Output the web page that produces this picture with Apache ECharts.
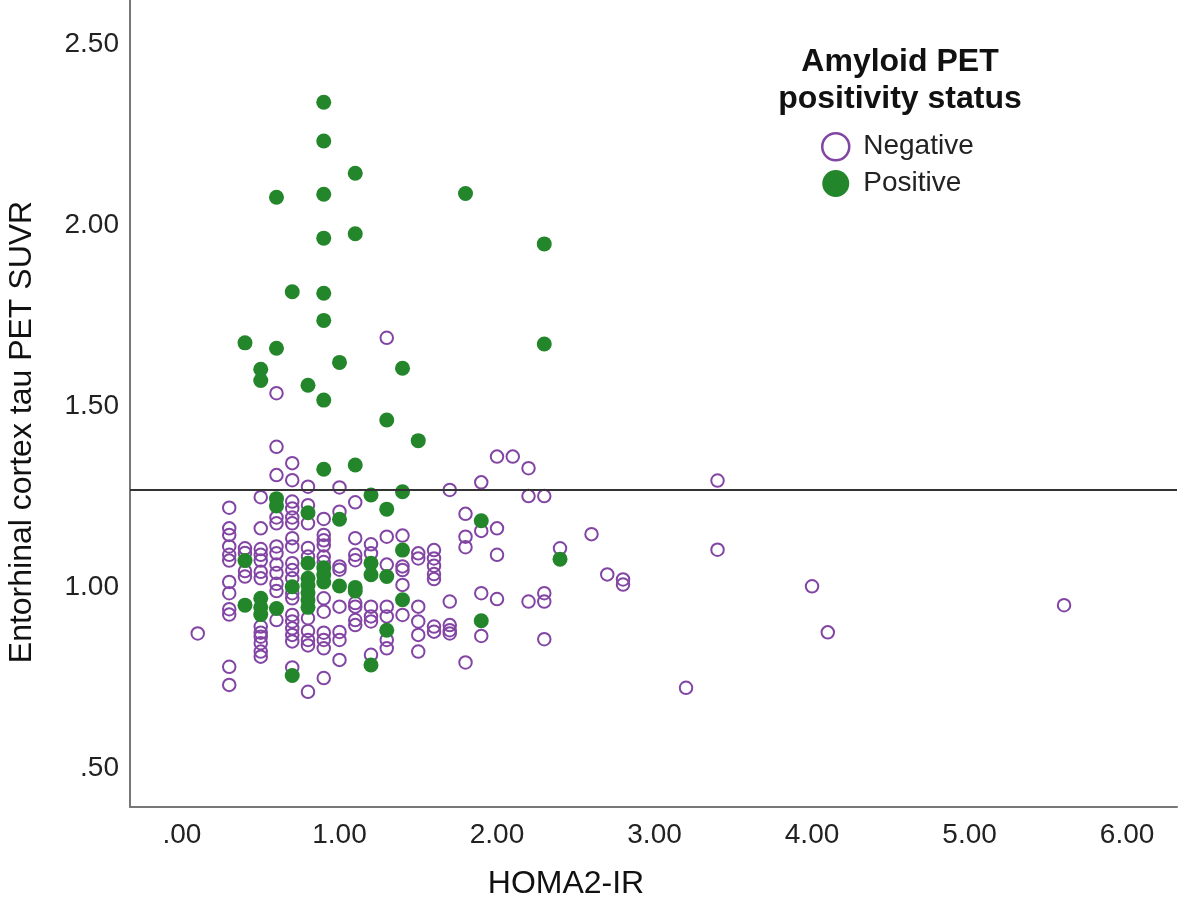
<!DOCTYPE html>
<html>
<head>
<meta charset="utf-8">
<script src="https://cdn.jsdelivr.net/npm/echarts@6/dist/echarts.min.js"></script>
<style>
html,body{margin:0;padding:0;background:#fff;}
#chart{width:1180px;height:910px;}
</style>
</head>
<body>
<div id="chart"></div>
<script>
// ---- data (HOMA2-IR, Entorhinal cortex tau PET SUVR) ----
const xTicks = [0, 1, 2, 3, 4, 5, 6];
const yTicks = [0.5, 1.0, 1.5, 2.0, 2.5];
const xTitle = 'HOMA2-IR';
const yTitle = 'Entorhinal cortex tau PET SUVR';
const legendTitle = 'Amyloid PET\npositivity status';
const seriesNames = ['Negative', 'Positive'];
const thresholdSUVR = 1.275;

const negative = [
  [0.1,0.873],
  [0.3,1.220],[0.3,1.163],[0.3,1.145],[0.3,1.113],[0.3,1.090],[0.3,1.074],[0.3,1.015],[0.3,0.984],[0.3,0.940],[0.3,0.925],[0.3,0.781],[0.3,0.731],
  [0.4,1.108],[0.4,1.095],[0.4,1.045],[0.4,1.030],
  [0.5,1.249],[0.5,1.163],[0.5,1.106],[0.5,1.090],[0.5,1.074],[0.5,1.043],[0.5,1.025],[0.5,0.892],[0.5,0.875],[0.5,0.864],[0.5,0.846],[0.5,0.823],[0.5,0.809],
  [0.6,1.536],[0.6,1.388],[0.6,1.310],[0.6,1.193],[0.6,1.177],[0.6,1.113],[0.6,1.094],[0.6,1.063],[0.6,1.040],[0.6,1.010],[0.6,0.990],[0.6,0.910],
  [0.7,1.343],[0.7,1.296],[0.7,1.237],[0.7,1.218],[0.7,1.193],[0.7,1.177],[0.7,1.136],[0.7,1.113],[0.7,1.067],[0.7,1.048],[0.7,1.025],[0.7,0.984],[0.7,0.970],[0.7,0.924],[0.7,0.906],[0.7,0.887],[0.7,0.869],[0.7,0.851],[0.7,0.779],
  [0.8,1.278],[0.8,1.227],[0.8,1.177],[0.8,1.109],[0.8,1.085],[0.8,0.915],[0.8,0.880],[0.8,0.855],[0.8,0.840],[0.8,0.712],
  [0.9,1.189],[0.9,1.145],[0.9,1.130],[0.9,1.116],[0.9,1.085],[0.9,1.070],[0.9,0.970],[0.9,0.933],[0.9,0.875],[0.9,0.855],[0.9,0.832],[0.9,0.750],
  [1.0,1.276],[1.0,1.209],[1.0,1.058],[1.0,1.049],[1.0,0.947],[1.0,0.877],[1.0,0.855],[1.0,0.800],
  [1.1,1.235],[1.1,1.136],[1.1,1.090],[1.1,1.075],[1.1,0.957],[1.1,0.947],[1.1,0.910],[1.1,0.896],
  [1.2,1.119],[1.2,1.094],[1.2,0.947],[1.2,0.920],[1.2,0.906],[1.2,0.814],
  [1.3,1.689],[1.3,1.140],[1.3,1.063],[1.3,0.947],[1.3,0.920],[1.3,0.855],[1.3,0.832],
  [1.4,1.143],[1.4,1.058],[1.4,1.048],[1.4,1.007],[1.4,0.924],
  [1.5,1.094],[1.5,1.080],[1.5,0.947],[1.5,0.906],[1.5,0.869],[1.5,0.823],
  [1.6,1.103],[1.6,1.080],[1.6,1.060],[1.6,1.037],[1.6,1.023],[1.6,0.892],[1.6,0.878],
  [1.7,1.269],[1.7,0.961],[1.7,0.896],[1.7,0.882],[1.7,0.873],
  [1.8,1.203],[1.8,1.140],[1.8,1.111],[1.8,0.793],
  [1.9,1.290],[1.9,1.156],[1.9,0.984],[1.9,0.866],
  [2.0,1.361],[2.0,1.163],[2.0,1.090],[2.0,0.968],
  [2.1,1.361],
  [2.2,1.329],[2.2,1.252],[2.2,0.961],
  [2.3,1.252],[2.3,0.984],[2.3,0.961],[2.3,0.857],
  [2.4,1.108],
  [2.6,1.147],
  [2.7,1.036],
  [2.8,1.022],[2.8,1.008],
  [3.2,0.723],
  [3.4,1.295],[3.4,1.104],
  [4.0,1.003],
  [4.1,0.876],
  [5.6,0.951]
];

const positive = [
  [0.4,1.675],[0.4,1.074],[0.4,0.951],
  [0.5,1.602],[0.5,1.571],[0.5,0.970],[0.5,0.945],[0.5,0.925],
  [0.6,2.077],[0.6,1.660],[0.6,1.245],[0.6,1.225],[0.6,0.942],
  [0.7,1.816],[0.7,1.002],[0.7,0.757],
  [0.8,1.558],[0.8,1.206],[0.8,1.067],[0.8,1.025],[0.8,1.005],[0.8,0.985],[0.8,0.965],[0.8,0.945],
  [0.9,2.339],[0.9,2.232],[0.9,2.085],[0.9,1.964],[0.9,1.812],[0.9,1.737],[0.9,1.517],[0.9,1.326],[0.9,1.054],[0.9,1.035],[0.9,1.015],
  [1.0,1.621],[1.0,1.188],[1.0,1.004],
  [1.1,2.143],[1.1,1.976],[1.1,1.338],[1.1,1.000],[1.1,0.990],
  [1.2,1.255],[1.2,1.067],[1.2,1.035],[1.2,0.786],
  [1.3,1.462],[1.3,1.216],[1.3,1.030],[1.3,0.882],
  [1.4,1.605],[1.4,1.264],[1.4,1.103],[1.4,0.966],
  [1.5,1.405],
  [1.8,2.087],
  [1.9,1.184],[1.9,0.908],
  [2.3,1.948],[2.3,1.672],
  [2.4,1.078]
];

// ---- chart ----
const PURPLE = '#8245A4';
const GREEN = '#23862A';
const FONT = "'Liberation Sans', Arial, sans-serif";
const fmt = v => v.toFixed(2).replace(/^0/, '');

const chart = echarts.init(document.getElementById('chart'), null, {renderer: 'canvas'});
chart.setOption({
  animation: false,
  backgroundColor: '#fff',
  textStyle: {fontFamily: FONT},
  grid: {left: 130, right: 3, top: 0, bottom: 103, containLabel: false},
  xAxis: {
    type: 'value', min: -0.330, max: 6.317,
    axisLine: {show: true, onZero: false, lineStyle: {color: '#777', width: 2}},
    axisTick: {show: false},
    splitLine: {show: false},
    axisLabel: {customValues: xTicks, formatter: fmt, fontSize: 28, color: '#222', margin: 14, fontFamily: FONT}
  },
  yAxis: {
    type: 'value', min: 0.394, max: 2.6212,
    axisLine: {show: true, onZero: false, lineStyle: {color: '#777', width: 2}},
    axisTick: {show: false},
    splitLine: {show: false},
    axisLabel: {customValues: yTicks, formatter: fmt, fontSize: 28, color: '#222', margin: 11, fontFamily: FONT}
  },
  legend: {
    orient: 'vertical', left: 816, top: 127, itemWidth: 27, itemHeight: 27, itemGap: 8,
    textStyle: {fontSize: 28, color: '#222', lineHeight: 28, padding: [0, 0, 0, 9], fontFamily: FONT},
    data: [
      {name: seriesNames[0], icon: 'circle', itemStyle: {color: '#fff', borderColor: PURPLE, borderWidth: 2.5, opacity: 1}},
      {name: seriesNames[1], icon: 'circle', itemStyle: {color: GREEN, borderWidth: 0, opacity: 1}}
    ]
  },
  graphic: [
    {type: 'text', x: 900, y: 81, style: {text: legendTitle, fontSize: 32, fontWeight: 'bold', fill: '#111', align: 'center', verticalAlign: 'middle', lineHeight: 37, fontFamily: FONT}},
    {type: 'text', x: 566, y: 884, style: {text: xTitle, fontSize: 32, fill: '#111', align: 'center', verticalAlign: 'middle', fontFamily: FONT}},
    {type: 'text', x: 22, y: 432, rotation: Math.PI / 2, style: {text: yTitle, fontSize: 32, fill: '#111', align: 'center', verticalAlign: 'middle', fontFamily: FONT}}
  ],
  series: [
    {
      name: seriesNames[0], type: 'scatter', symbol: 'circle', symbolSize: 12.5,
      itemStyle: {color: 'rgba(255,255,255,0)', borderColor: PURPLE, borderWidth: 2, opacity: 1},
      data: negative, z: 2,
      markLine: {
        silent: true, symbol: 'none', label: {show: false},
        lineStyle: {color: '#333', width: 2, type: 'solid'},
        data: [{yAxis: thresholdSUVR}]
      }
    },
    {
      name: seriesNames[1], type: 'scatter', symbol: 'circle', symbolSize: 15,
      itemStyle: {color: GREEN, borderWidth: 0, opacity: 1},
      data: positive, z: 3
    }
  ]
});
</script>
</body>
</html>
